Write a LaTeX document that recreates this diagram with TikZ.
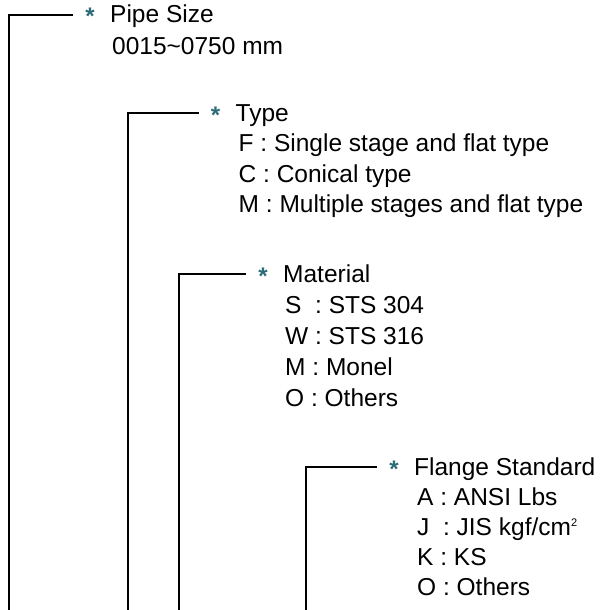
\documentclass[tikz,border=0pt]{standalone}
\usepackage{fontspec}
\setmainfont{Liberation Sans}
\usetikzlibrary{positioning}
\definecolor{inkstar}{HTML}{2C6B78}
\tikzset{
  codetext/.style={anchor=base west, inner sep=0pt, font=\fontsize{24.5}{30}\selectfont},
  codestar/.style={anchor=base, inner sep=0pt, text=inkstar, font=\fontsize{24}{30}\selectfont\bfseries},
  codeline/.style={line width=1.8pt, shorten >=12pt},
}
\newcommand{\codehead}[4]{%
  \node[codetext] (#1) at (#2,#3) {#4};
  \node[codestar, left=20pt of #1.base west, anchor=base, yshift=-2pt] (#1star) {*};}
\newcommand{\sqr}{{\fontsize{11}{11}\selectfont\raisebox{8.5pt}{2}}}

\begin{document}
\begin{tikzpicture}[x=1pt, y=-1pt]
  \useasboundingbox (0,0) rectangle (600,610);
  % pipe size
  \codehead{pipe}{110}{23}{Pipe Size}
  \node[codetext] (pipe1) at (112,55) {0015\textasciitilde0750 mm};
  % type
  \codehead{type}{235.5}{121}{Type}
  \foreach \t [count=\i] in {F : Single stage and flat type, C : Conical type,
      M : Multiple stages and flat type}
    \node[codetext] (type\i) at (238.5,121+30.5*\i) {\t};
  % material
  \codehead{mat}{283}{282}{Material}
  \foreach \t [count=\i] in {S\ \ : STS 304, W : STS 316, M : Monel, O : Others}
    \node[codetext] (mat\i) at (285,282+31*\i) {\t};
  % flange standard
  \codehead{flange}{414}{475}{Flange Standard}
  \foreach \t [count=\i] in {A : ANSI Lbs, J\ \ : JIS kgf/cm\sqr, K : KS, O : Others}
    \node[codetext] (flange\i) at (417,475+30*\i) {\t};
  % leader lines
  \coordinate (pipefoot) at (9,610);
  \coordinate (typefoot) at (128,610);
  \coordinate (matfoot) at (179,610);
  \coordinate (flangefoot) at (306,610);
  \draw[codeline] (pipefoot) |- ([yshift=2pt]pipestar.west);
  \draw[codeline] (typefoot) |- ([yshift=2pt]typestar.west);
  \draw[codeline] (matfoot) |- ([yshift=2pt]matstar.west);
  \draw[codeline] (flangefoot) |- ([yshift=2pt]flangestar.west);
\end{tikzpicture}
\end{document}
